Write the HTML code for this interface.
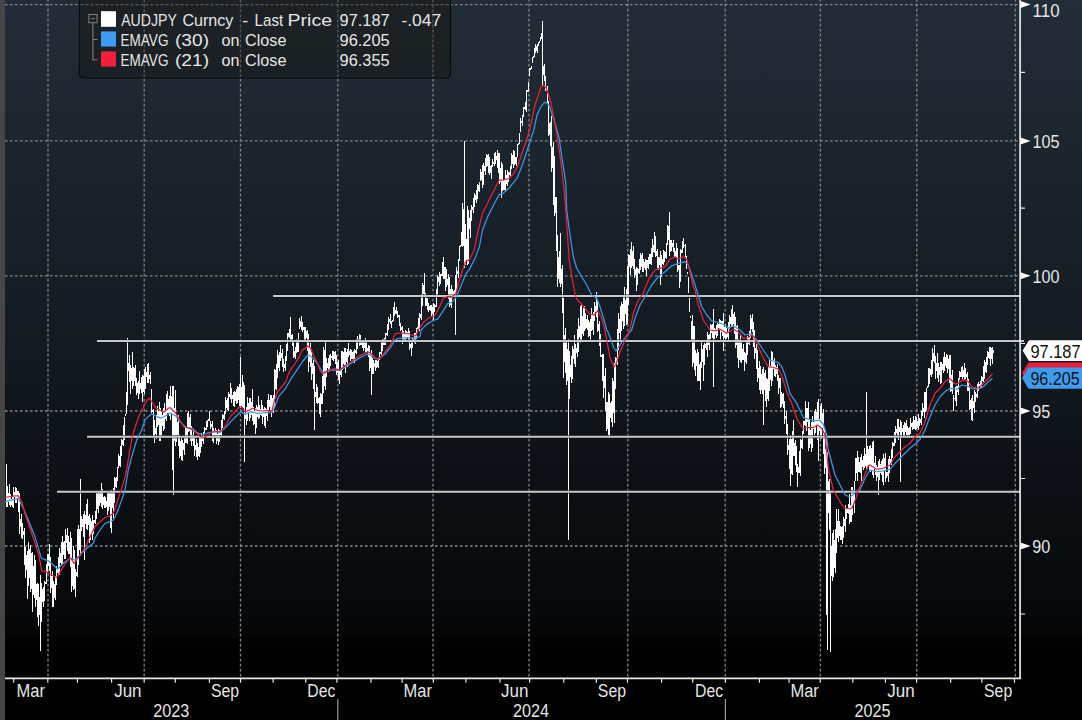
<!DOCTYPE html>
<html><head><meta charset="utf-8"><style>
html,body{margin:0;padding:0;background:#000;}
body{width:1082px;height:720px;overflow:hidden;font-family:"Liberation Sans",sans-serif;}
svg{display:block;}
text{font-family:"Liberation Sans",sans-serif;}
</style></head><body>
<svg width="1082" height="720" viewBox="0 0 1082 720">
<defs>
<linearGradient id="bg" x1="0" y1="0" x2="0" y2="678" gradientUnits="userSpaceOnUse">
<stop offset="0.0000" stop-color="rgb(33,45,56)"/>
<stop offset="0.2212" stop-color="rgb(27,37,46)"/>
<stop offset="0.4867" stop-color="rgb(20,27,34)"/>
<stop offset="0.7375" stop-color="rgb(11,15,19)"/>
<stop offset="0.8805" stop-color="rgb(7,9,12)"/>
<stop offset="0.9395" stop-color="rgb(4,5,7)"/>
<stop offset="0.9425" stop-color="rgb(2,2,3)"/>
<stop offset="1.0000" stop-color="rgb(0,0,0)"/>
</linearGradient>
</defs>
<rect x="0" y="0" width="1082" height="720" fill="#000"/>
<rect x="5" y="0" width="1077" height="678" fill="url(#bg)"/>
<rect x="0" y="0" width="5" height="720" fill="#464646"/>
<!-- grid -->
<g stroke="#82878c" stroke-width="1.3" stroke-dasharray="2.6 2.4" fill="none">
<path d="M5 4.6H1020M5 140.9H1020M5 275.8H1020M5 411H1020M5 546H1020"/>
<path stroke-dashoffset="1.2" d="M48 0V678M144.2 0V678M240.5 0V678M337.8 0V678M433 0V678M529 0V678M627.8 0V678M725.2 0V678M820.4 0V678M916.8 0V678M1015.3 0V678"/>
</g>
<!-- price bars -->
<path d="M6.5 464V507M7.5 486V507M8.5 493V502M9.5 484V505M10.5 494V507M11.5 499V505M12.5 497V507M13.5 487V508M14.5 492V497M15.5 487V503M16.5 488V503M17.5 491V498M18.5 491V512M19.5 493V534M20.5 519V527M21.5 514V538M22.5 523V539M23.5 531V535M24.5 528V565M25.5 547V578M26.5 555V570M27.5 551V599M28.5 542V586M29.5 549V578M30.5 545V592M31.5 553V589M32.5 552V612M33.5 566V595M34.5 555V598M35.5 560V607M36.5 584V600M37.5 583V617M38.5 584V626M39.5 597V615M40.5 575V651M41.5 583V622M42.5 589V602M43.5 587V607M44.5 581V601M45.5 582V584M46.5 564V584M47.5 554V572M48.5 554V566M49.5 544V571M50.5 557V593M51.5 576V588M52.5 571V607M53.5 581V607M54.5 584V598M55.5 576V600M56.5 566V585M57.5 569V573M58.5 557V575M59.5 548V575M60.5 553V563M61.5 542V565M62.5 536V564M63.5 542V555M64.5 541V559M65.5 529V559M66.5 535V543M67.5 528V551M68.5 536V554M69.5 542V554M70.5 532V567M71.5 538V592M72.5 560V586M73.5 546V590M74.5 550V589M75.5 569V597M76.5 572V576M77.5 529V577M78.5 525V565M79.5 529V550M80.5 479V556M81.5 516V531M82.5 519V527M83.5 514V537M84.5 511V560M85.5 515V524M86.5 504V529M87.5 499V530M88.5 516V525M89.5 514V543M90.5 518V540M91.5 521V535M92.5 515V540M93.5 520V534M94.5 520V523M95.5 511V524M96.5 493V519M97.5 493V509M98.5 492V513M99.5 491V506M100.5 492V503M101.5 483V507M102.5 489V509M103.5 497V505M104.5 496V508M105.5 497V508M106.5 501V507M107.5 493V515M108.5 493V511M109.5 493V507M110.5 491V528M111.5 490V533M112.5 491V508M113.5 488V518M114.5 477V503M115.5 478V487M116.5 477V488M117.5 467V481M118.5 454V468M119.5 456V466M120.5 446V467M121.5 439V456M122.5 440V445M123.5 425V446M124.5 417V440M125.5 414V416M126.5 392V414M127.5 338V405M128.5 363V371M129.5 355V382M130.5 365V394M131.5 368V381M132.5 352V389M133.5 367V386M134.5 368V381M135.5 365V386M136.5 378V395M137.5 383V393M138.5 381V399M139.5 371V394M140.5 383V389M141.5 377V393M142.5 375V402M143.5 376V392M144.5 369V394M145.5 367V389M146.5 372V377M147.5 364V383M148.5 363V383M149.5 375V379M150.5 372V384M151.5 389V413M152.5 410V412M153.5 409V436M154.5 420V443M155.5 428V434M156.5 415V439M157.5 406V427M158.5 411V425M159.5 402V441M160.5 408V441M161.5 412V437M162.5 415V426M163.5 408V431M164.5 403V429M165.5 410V419M166.5 394V421M167.5 391V413M168.5 399V413M169.5 396V416M170.5 386V420M171.5 396V414M172.5 386V470M173.5 386V495M174.5 408V441M175.5 390V446M176.5 415V442M177.5 422V435M178.5 415V446M179.5 435V458M180.5 441V456M181.5 437V460M182.5 440V461M183.5 443V450M184.5 438V455M185.5 426V443M186.5 427V443M187.5 413V444M188.5 411V432M189.5 417V431M190.5 414V441M191.5 426V446M192.5 435V441M193.5 430V446M194.5 436V456M195.5 445V450M196.5 439V457M197.5 443V460M198.5 447V456M199.5 435V457M200.5 436V453M201.5 433V447M202.5 437V441M203.5 432V444M204.5 427V433M205.5 428V430M206.5 421V430M207.5 420V427M208.5 419V421M209.5 411V421M210.5 421V429M211.5 424V427M212.5 421V441M213.5 428V443M214.5 431V436M215.5 428V438M216.5 430V444M217.5 434V441M218.5 429V445M219.5 430V442M220.5 431V435M221.5 420V436M222.5 414V428M223.5 415V419M224.5 411V420M225.5 397V414M226.5 400V408M227.5 398V410M228.5 392V411M229.5 394V397M230.5 383V399M231.5 388V403M232.5 395V399M233.5 392V406M234.5 391V407M235.5 392V401M236.5 389V404M237.5 386V403M238.5 387V400M239.5 384V406M240.5 357V408M241.5 387V406M242.5 375V407M243.5 382V408M244.5 385V462M245.5 413V419M246.5 407V425M247.5 397V421M248.5 403V413M249.5 398V421M250.5 398V418M251.5 402V415M252.5 389V421M253.5 407V425M254.5 411V424M255.5 408V434M256.5 405V428M257.5 407V417M258.5 396V419M259.5 405V418M260.5 409V415M261.5 400V416M262.5 405V424M263.5 409V417M264.5 407V426M265.5 408V428M266.5 409V416M267.5 400V421M268.5 394V411M269.5 400V407M270.5 395V410M271.5 395V417M272.5 398V411M273.5 395V413M274.5 369V407M275.5 370V389M276.5 364V390M277.5 350V378M278.5 355V368M279.5 352V371M280.5 345V361M281.5 353V358M282.5 349V367M283.5 359V372M284.5 364V368M285.5 356V371M286.5 344V361M287.5 333V351M288.5 333V337M289.5 329V338M290.5 317V342M291.5 335V342M292.5 334V346M293.5 340V358M294.5 351V357M295.5 347V359M296.5 339V353M297.5 340V352M298.5 333V352M299.5 318V329M300.5 321V327M301.5 316V330M302.5 322V332M303.5 327V330M304.5 327V341M305.5 327V342M306.5 331V338M307.5 330V351M308.5 334V372M309.5 347V362M310.5 343V367M311.5 352V380M312.5 363V374M313.5 360V389M314.5 366V430M315.5 392V397M316.5 384V403M317.5 387V404M318.5 398V403M319.5 397V414M320.5 393V417M321.5 394V404M322.5 376V404M323.5 347V393M324.5 350V386M325.5 342V390M326.5 358V377M327.5 363V368M328.5 358V372M329.5 355V369M330.5 354V366M331.5 356V358M332.5 351V360M333.5 351V361M334.5 352V359M335.5 351V364M336.5 355V375M337.5 362V373M338.5 360V380M339.5 369V384M340.5 371V375M341.5 351V377M342.5 351V370M343.5 352V364M344.5 348V365M345.5 348V373M346.5 352V362M347.5 349V367M348.5 343V357M349.5 351V355M350.5 349V361M351.5 350V359M352.5 352V359M353.5 351V361M354.5 349V363M355.5 350V353M356.5 339V354M357.5 336V349M358.5 339V342M359.5 334V346M360.5 335V345M361.5 342V345M362.5 341V348M363.5 341V351M364.5 342V348M365.5 338V353M366.5 340V353M367.5 348V351M368.5 345V357M369.5 346V371M370.5 353V368M371.5 350V395M372.5 358V374M373.5 360V374M374.5 363V367M375.5 360V371M376.5 360V368M377.5 361V367M378.5 359V368M379.5 352V360M380.5 352V354M381.5 342V355M382.5 339V351M383.5 339V345M384.5 338V345M385.5 333V345M386.5 333V335M387.5 324V336M388.5 317V330M389.5 319V322M390.5 314V324M391.5 321V328M392.5 320V322M393.5 307V321M394.5 302V316M395.5 310V314M396.5 307V314M397.5 311V318M398.5 315V317M399.5 315V326M400.5 323V331M401.5 327V330M402.5 326V344M403.5 331V341M404.5 334V340M405.5 330V340M406.5 331V339M407.5 332V337M408.5 328V341M409.5 331V350M410.5 344V348M411.5 342V356M412.5 338V348M413.5 339V341M414.5 333V343M415.5 333V344M416.5 328V339M417.5 327V329M418.5 318V329M419.5 313V331M420.5 314V318M421.5 294V320M422.5 283V306M423.5 285V294M424.5 273V295M425.5 293V306M426.5 298V306M427.5 298V310M428.5 303V312M429.5 306V310M430.5 305V311M431.5 305V316M432.5 307V314M433.5 303V321M434.5 304V312M435.5 305V307M436.5 289V307M437.5 275V295M438.5 277V282M439.5 272V286M440.5 274V284M441.5 274V276M442.5 262V276M443.5 257V279M444.5 267V279M445.5 267V291M446.5 269V287M447.5 279V285M448.5 274V299M449.5 277V307M450.5 289V305M451.5 285V308M452.5 289V298M453.5 291V296M454.5 290V297M455.5 275V335M456.5 267V292M457.5 271V274M458.5 259V278M459.5 246V261M460.5 245V247M461.5 232V246M462.5 203V247M463.5 209V246M464.5 141V268M465.5 224V265M466.5 239V260M467.5 206V265M468.5 210V264M469.5 218V229M470.5 210V238M471.5 205V221M472.5 207V210M473.5 198V213M474.5 193V207M475.5 195V200M476.5 190V203M477.5 184V199M478.5 185V191M479.5 182V192M480.5 169V181M481.5 172V180M482.5 165V188M483.5 163V185M484.5 166V171M485.5 158V175M486.5 154V167M487.5 155V166M488.5 154V173M489.5 157V175M490.5 166V173M491.5 165V179M492.5 159V167M493.5 162V164M494.5 153V166M495.5 152V164M496.5 156V160M497.5 150V168M498.5 153V173M499.5 153V184M500.5 168V182M501.5 162V198M502.5 164V191M503.5 180V190M504.5 179V190M505.5 170V191M506.5 175V184M507.5 170V186M508.5 172V182M509.5 172V175M510.5 166V176M511.5 153V169M512.5 155V164M513.5 150V168M514.5 151V165M515.5 157V164M516.5 157V166M517.5 144V157M518.5 143V145M519.5 133V144M520.5 118V132M521.5 121V123M522.5 115V126M523.5 107V117M524.5 107V109M525.5 102V110M526.5 90V112M527.5 90V92M528.5 82V92M529.5 68V76M530.5 68V70M531.5 66V69M532.5 57V63M533.5 56V58M534.5 48V57M535.5 44V53M536.5 46V51M537.5 44V53M538.5 42V46M539.5 41V43M540.5 37V41M541.5 33V39M542.5 21V85M543.5 66V75M544.5 64V81M545.5 76V91M546.5 88V90M547.5 86V103M548.5 101V136M549.5 123V135M550.5 122V146M551.5 116V172M552.5 147V168M553.5 142V205M554.5 156V216M555.5 197V213M556.5 197V251M557.5 235V287M558.5 257V279M559.5 251V283M560.5 233V287M561.5 269V284M562.5 265V313M563.5 298V378M564.5 335V362M565.5 328V373M566.5 340V385M567.5 349V381M568.5 339V540M569.5 351V399M570.5 365V377M571.5 356V383M572.5 346V379M573.5 349V359M574.5 335V364M575.5 344V367M576.5 348V353M577.5 329V357M578.5 318V352M579.5 326V337M580.5 306V343M581.5 304V342M582.5 316V334M583.5 308V336M584.5 306V331M585.5 313V329M586.5 319V328M587.5 315V330M588.5 320V337M589.5 322V336M590.5 319V342M591.5 308V331M592.5 315V330M593.5 312V335M594.5 302V321M595.5 306V312M596.5 292V317M597.5 301V332M598.5 324V331M599.5 321V346M600.5 334V357M601.5 355V357M602.5 354V381M603.5 354V398M604.5 376V388M605.5 368V411M606.5 402V431M607.5 402V429M608.5 392V435M609.5 394V436M610.5 403V418M611.5 401V422M612.5 378V427M613.5 381V413M614.5 363V423M615.5 357V389M616.5 358V363M617.5 329V365M618.5 313V350M619.5 319V333M620.5 306V341M621.5 302V331M622.5 304V321M623.5 297V329M624.5 287V326M625.5 300V314M626.5 289V325M627.5 266V324M628.5 254V305M629.5 255V267M630.5 249V275M631.5 242V268M632.5 251V266M633.5 246V269M634.5 259V278M635.5 269V275M636.5 267V291M637.5 268V285M638.5 269V273M639.5 259V274M640.5 253V270M641.5 255V267M642.5 253V272M643.5 259V272M644.5 262V268M645.5 259V270M646.5 260V276M647.5 260V268M648.5 257V269M649.5 254V264M650.5 254V264M651.5 248V265M652.5 239V257M653.5 245V252M654.5 232V253M655.5 236V257M656.5 251V256M657.5 249V268M658.5 257V270M659.5 257V265M660.5 251V285M661.5 255V277M662.5 259V264M663.5 250V265M664.5 251V262M665.5 252V258M666.5 243V259M667.5 225V245M668.5 226V240M669.5 212V256M670.5 240V252M671.5 240V251M672.5 243V247M673.5 240V252M674.5 248V257M675.5 251V257M676.5 243V257M677.5 248V272M678.5 265V270M679.5 265V288M680.5 249V282M681.5 250V253M682.5 241V253M683.5 238V248M684.5 245V246M685.5 244V257M686.5 256V269M687.5 272V274M688.5 277V293M689.5 298V312M690.5 316V318M691.5 321V340M692.5 315V367M693.5 326V363M694.5 326V370M695.5 350V376M696.5 353V366M697.5 349V381M698.5 352V381M699.5 364V381M700.5 362V390M701.5 340V368M702.5 349V362M703.5 345V381M704.5 343V365M705.5 344V348M706.5 340V350M707.5 332V357M708.5 335V345M709.5 334V350M710.5 324V339M711.5 325V333M712.5 324V338M713.5 309V387M714.5 328V339M715.5 329V335M716.5 325V338M717.5 322V336M718.5 324V328M719.5 319V329M720.5 320V340M721.5 321V332M722.5 321V336M723.5 313V351M724.5 327V338M725.5 324V341M726.5 328V339M727.5 332V337M728.5 322V340M729.5 315V329M730.5 317V324M731.5 309V327M732.5 305V327M733.5 314V324M734.5 312V334M735.5 317V348M736.5 326V345M737.5 325V358M738.5 339V368M739.5 342V360M740.5 334V362M741.5 342V363M742.5 349V360M743.5 344V360M744.5 352V371M745.5 353V362M746.5 341V364M747.5 336V355M748.5 337V344M749.5 331V345M750.5 315V338M751.5 318V329M752.5 314V332M753.5 322V347M754.5 330V359M755.5 348V353M756.5 344V369M757.5 350V382M758.5 368V378M759.5 361V390M760.5 366V394M761.5 374V390M762.5 369V394M763.5 367V425M764.5 373V390M765.5 370V401M766.5 378V407M767.5 379V399M768.5 366V401M769.5 359V391M770.5 366V380M771.5 351V386M772.5 352V381M773.5 360V369M774.5 358V376M775.5 365V377M776.5 367V374M777.5 364V381M778.5 375V394M779.5 378V388M780.5 378V408M781.5 392V407M782.5 394V404M783.5 393V408M784.5 401V424M785.5 416V419M786.5 411V434M787.5 424V455M788.5 445V450M789.5 439V469M790.5 435V486M791.5 439V474M792.5 431V475M793.5 420V456M794.5 443V456M795.5 440V465M796.5 446V472M797.5 464V487M798.5 467V473M799.5 451V473M800.5 439V476M801.5 440V448M802.5 431V449M803.5 421V434M804.5 421V425M805.5 401V426M806.5 408V431M807.5 408V422M808.5 402V451M809.5 420V448M810.5 430V444M811.5 422V452M812.5 416V448M813.5 422V429M814.5 411V435M815.5 409V433M816.5 412V425M817.5 402V440M818.5 399V461M819.5 419V431M820.5 406V439M821.5 403V439M822.5 413V428M823.5 409V454M824.5 427V474M825.5 449V468M826.5 433V615M827.5 452V650M828.5 481V513M829.5 479V530M830.5 490V652M831.5 546V576M832.5 533V581M833.5 530V577M834.5 540V568M835.5 529V573M836.5 509V553M837.5 521V538M838.5 509V542M839.5 521V536M840.5 526V540M841.5 527V540M842.5 526V544M843.5 517V538M844.5 519V526M845.5 505V532M846.5 508V519M847.5 508V513M848.5 504V514M849.5 494V524M850.5 505V522M851.5 487V522M852.5 487V515M853.5 490V505M854.5 481V513M855.5 458V481M856.5 458V473M857.5 451V481M858.5 457V472M859.5 462V472M860.5 457V473M861.5 454V481M862.5 460V467M863.5 456V470M864.5 448V468M865.5 454V466M866.5 392V469M867.5 446V468M868.5 449V466M869.5 446V471M870.5 445V472M871.5 448V470M872.5 442V475M873.5 441V478M874.5 463V469M875.5 456V475M876.5 465V481M877.5 467V477M878.5 461V495M879.5 459V480M880.5 464V473M881.5 461V475M882.5 459V482M883.5 454V485M884.5 458V471M885.5 453V482M886.5 472V478M887.5 472V476M888.5 459V482M889.5 456V473M890.5 459V464M891.5 449V465M892.5 442V458M893.5 443V446M894.5 432V446M895.5 426V443M896.5 429V433M897.5 419V436M898.5 419V440M899.5 427V432M900.5 420V482M901.5 422V437M902.5 428V432M903.5 425V436M904.5 422V436M905.5 423V432M906.5 420V435M907.5 426V436M908.5 428V435M909.5 427V438M910.5 418V434M911.5 423V427M912.5 422V430M913.5 416V429M914.5 420V429M915.5 416V430M916.5 417V429M917.5 421V428M918.5 414V430M919.5 418V426M920.5 419V423M921.5 411V425M922.5 403V416M923.5 408V412M924.5 392V418M925.5 392V412M926.5 388V410M927.5 386V388M928.5 368V387M929.5 368V384M930.5 369V375M931.5 360V377M932.5 348V374M933.5 353V361M934.5 345V363M935.5 356V379M936.5 363V371M937.5 353V378M938.5 363V382M939.5 367V375M940.5 362V384M941.5 362V383M942.5 364V370M943.5 357V373M944.5 352V371M945.5 357V366M946.5 354V368M947.5 355V373M948.5 359V369M949.5 355V383M950.5 355V392M951.5 375V391M952.5 370V394M953.5 395V411M954.5 398V399M955.5 387V401M956.5 386V406M957.5 386V392M958.5 378V395M959.5 371V380M960.5 372V377M961.5 367V377M962.5 366V379M963.5 370V377M964.5 363V380M965.5 368V379M966.5 374V377M967.5 372V391M968.5 379V391M969.5 387V410M970.5 400V409M971.5 398V420M972.5 395V421M973.5 401V408M974.5 390V413M975.5 392V402M976.5 394V397M977.5 384V398M978.5 382V391M979.5 384V386M980.5 381V388M981.5 376V387M982.5 377V381M983.5 366V382M984.5 360V379M985.5 362V372M986.5 357V373M987.5 351V365M988.5 352V358M989.5 347V359M990.5 347V366M991.5 348V359M992.5 347V364M993.5 350V353" stroke="#ffffff" stroke-width="1" fill="none" shape-rendering="crispEdges"/>
<!-- user lines -->
<g stroke="#080b0e" stroke-width="3.6" fill="none" stroke-opacity="0.6">
<path d="M272.5 296H1019M96.5 341H1019M86.5 436.8H1019M56.5 491.8H1019"/>
</g>
<g stroke="#c6c8ca" stroke-width="2" fill="none">
<path d="M273 296H1020M97 341H1024M87 436.8H1020M57 491.8H1020"/>
</g>
<!-- EMAs -->
<polyline points="5.00,501.70 15.00,499.20 18.30,498.30 23.30,508.30 28.30,520.00 35.00,536.70 40.80,556.70 41.70,558.30 48.30,560.80 53.30,565.00 57.50,569.20 63.30,563.30 70.00,558.30 75.00,560.00 81.70,553.30 86.70,548.30 93.30,543.30 95.00,538.30 100.00,530.00 105.00,523.30 110.00,521.70 113.30,520.00 116.70,513.30 121.70,500.00 125.00,490.00 128.30,470.00 131.70,456.70 136.70,440.00 141.70,430.00 145.00,420.00 145.80,418.90 151.40,414.00 155.60,416.00 161.00,418.20 165.30,416.00 170.00,413.00 175.60,415.80 179.70,421.40 185.30,427.00 192.20,428.30 197.80,433.20 203.30,434.60 208.90,432.50 214.40,431.80 220.00,432.50 225.60,427.60 231.10,421.40 236.70,415.80 240.80,411.70 245.00,414.40 250.60,411.70 256.10,413.00 261.70,413.00 267.20,412.40 271.70,412.60 274.40,407.80 278.60,396.70 285.60,388.30 291.10,378.60 296.70,370.30 302.20,362.00 307.80,355.00 311.90,357.00 316.10,362.00 322.80,372.00 328.30,370.60 333.90,369.90 339.40,370.60 345.00,367.00 350.60,363.60 356.10,360.10 361.70,356.70 367.90,353.90 371.40,356.00 375.60,358.75 379.70,358.00 385.30,353.90 390.80,346.90 395.00,340.00 397.80,338.60 403.30,337.90 408.90,337.90 415.80,337.90 420.00,336.50 421.10,330.00 426.70,324.40 432.20,321.00 437.80,318.90 443.30,310.60 447.50,303.60 451.70,302.20 455.80,298.00 460.00,288.30 465.60,274.40 469.70,268.90 475.30,257.80 479.40,246.70 482.50,230.00 488.00,216.10 493.60,205.00 499.20,194.60 503.30,193.20 508.90,188.30 517.20,177.90 521.40,167.50 525.60,155.00 529.70,142.50 533.90,130.00 537.00,115.00 541.20,106.30 544.80,102.10 549.00,105.00 554.00,120.00 558.90,137.00 563.00,164.70 565.80,182.80 566.70,210.00 570.00,235.00 573.30,256.70 576.70,268.30 581.70,276.70 586.70,285.00 591.70,295.00 596.70,298.30 600.00,306.70 605.00,323.30 606.70,330.00 608.00,332.00 614.00,348.00 616.00,351.00 622.00,342.00 627.00,335.00 631.70,330.00 635.00,318.30 640.00,305.00 645.00,296.70 651.70,285.00 658.30,276.70 665.00,271.70 671.70,265.80 678.30,263.30 685.00,261.70 688.30,265.00 691.70,275.00 696.70,290.00 701.70,306.70 706.70,315.00 711.70,320.80 718.30,322.50 725.00,325.00 728.30,328.30 733.30,325.80 740.00,330.00 745.00,335.00 751.70,333.70 756.70,340.00 763.30,350.00 770.00,360.00 775.00,361.70 778.30,362.50 781.70,366.70 785.00,375.00 790.00,393.30 796.70,403.30 803.30,417.50 808.30,419.20 815.00,420.80 819.20,420.00 823.30,424.20 825.80,431.70 828.30,450.00 835.00,475.00 841.70,488.30 845.00,495.00 850.00,497.00 854.00,494.00 858.00,490.00 860.00,490.00 865.00,478.30 870.00,470.00 876.70,471.70 883.30,470.80 890.00,469.20 895.00,463.30 900.00,458.30 905.00,453.30 910.00,448.30 915.00,444.20 920.00,439.20 925.00,430.00 930.00,416.70 935.00,405.00 940.00,396.70 945.00,391.70 950.00,388.30 956.70,389.20 961.70,385.00 966.70,385.80 971.70,388.30 978.30,389.20 983.30,386.70 988.30,381.70 992.50,378.30" stroke="#3a96e8" stroke-width="1.25" fill="none" stroke-linejoin="round"/>
<polyline points="5.00,497.50 15.00,495.80 18.30,495.80 21.70,501.70 25.00,513.30 30.00,528.30 35.00,543.30 39.20,556.70 41.70,570.80 46.70,571.70 51.70,575.00 56.70,577.50 63.30,566.70 70.00,557.50 74.20,563.30 80.00,555.00 86.70,545.00 88.30,540.00 90.00,536.70 95.00,526.70 100.00,521.70 105.00,517.50 110.00,515.80 113.30,513.30 116.70,503.30 120.00,493.30 123.30,483.30 126.70,470.00 129.20,453.30 131.70,440.00 134.20,430.00 137.50,420.00 138.90,416.00 143.00,407.80 147.20,400.00 149.30,398.00 152.00,402.00 155.60,407.80 159.70,410.00 163.90,412.00 168.00,408.50 170.00,407.50 175.60,413.00 179.70,420.00 183.90,427.00 189.40,428.30 195.00,431.80 200.60,436.70 204.70,437.40 210.30,433.20 214.40,431.00 218.60,431.80 222.80,429.70 227.00,422.80 231.10,415.80 235.30,411.70 239.40,406.80 241.50,406.80 245.00,411.70 249.20,410.30 252.60,408.20 257.50,410.30 263.00,411.00 267.20,410.30 270.00,411.70 271.70,411.30 274.40,400.80 277.20,392.50 281.40,387.00 285.60,382.00 288.30,374.40 291.10,368.90 295.30,363.30 299.40,356.40 302.20,350.10 305.70,348.00 307.80,346.00 310.60,348.00 313.30,355.00 317.50,363.30 320.00,370.60 322.80,374.00 328.30,370.60 333.90,368.50 339.40,369.90 345.00,365.70 350.60,362.20 356.10,358.00 361.70,354.60 367.90,351.80 371.40,353.90 375.60,358.75 378.30,359.40 382.50,355.30 386.70,349.70 390.80,344.20 395.00,334.40 397.80,333.00 403.30,333.00 408.90,333.75 411.70,335.10 415.80,335.80 418.30,330.00 423.90,321.70 429.40,317.50 434.30,316.10 439.20,307.80 443.30,298.00 447.50,296.70 451.70,296.70 455.80,293.90 458.60,282.80 462.80,268.90 465.60,262.00 469.70,259.20 473.90,250.80 478.30,230.00 482.50,213.30 488.00,202.20 493.60,191.10 499.20,180.00 503.30,180.00 508.90,178.60 513.00,174.40 517.20,167.50 521.40,155.00 525.60,142.50 529.70,130.00 535.00,105.00 541.00,87.00 543.30,85.30 546.00,87.50 551.00,102.50 556.10,130.00 560.30,157.80 564.40,192.50 565.80,210.00 567.50,235.00 569.20,260.00 571.70,276.70 575.00,293.30 576.70,299.20 580.00,302.50 585.00,308.30 590.00,314.20 594.20,315.00 597.50,310.80 601.70,318.30 605.00,330.00 610.00,358.00 614.00,367.00 616.00,364.00 620.00,352.00 626.00,338.00 630.00,330.00 633.30,313.30 638.30,300.00 643.30,293.30 645.00,288.30 650.00,276.70 655.00,270.00 660.00,268.30 665.00,266.70 670.00,259.20 675.00,256.70 678.30,259.20 683.30,256.70 686.70,259.20 690.00,271.70 693.30,286.70 695.00,290.00 698.30,305.00 703.30,320.00 710.00,330.00 715.00,330.80 720.00,329.20 726.70,333.30 733.30,329.20 738.30,331.70 743.30,338.30 748.30,337.50 751.70,335.00 755.00,338.30 758.30,346.70 763.30,358.30 768.30,366.70 773.30,367.50 778.30,369.20 781.70,375.00 786.70,391.70 791.70,403.30 796.70,418.30 802.50,428.30 808.30,427.50 813.30,427.50 817.50,425.00 821.70,428.30 825.00,435.00 828.30,468.30 833.30,490.00 839.00,500.00 844.00,508.00 850.00,509.00 852.00,508.00 856.00,498.00 858.30,490.00 863.30,478.30 868.30,465.80 870.00,465.00 876.70,469.20 883.30,468.30 890.00,465.00 895.00,456.70 900.00,451.70 905.00,446.70 910.00,443.30 915.00,436.70 920.00,433.30 925.00,421.70 930.00,405.00 935.00,393.30 940.00,388.30 945.00,381.70 950.00,378.30 954.20,383.30 956.70,384.20 960.00,381.70 963.30,379.70 968.30,381.70 971.70,386.70 976.70,388.00 980.00,386.70 985.00,381.70 989.20,377.50 992.50,373.70" stroke="#e8203a" stroke-width="1.25" fill="none" stroke-linejoin="round"/>
<!-- axes -->
<path d="M1020.1 0V679M5 678.4H1021" stroke="#e8e8e8" stroke-width="1.7" fill="none"/>
<!-- y ticks -->
<g fill="#ffffff">
<path d="M1020.5 1L1030.6 4.5L1020.5 8Z"/>
<path d="M1020.5 137.5L1030.6 141L1020.5 144.5Z"/>
<path d="M1020.5 272.2L1030.6 275.7L1020.5 279.2Z"/>
<path d="M1020.5 407.5L1030.6 411L1020.5 414.5Z"/>
<path d="M1020.5 542.5L1030.6 546L1020.5 549.5Z"/>
</g>
<path d="M1020 72.3H1025M1020 208.2H1025M1020 343.5H1025M1020 478.5H1025M1020 614H1025" stroke="#e8e8e8" stroke-width="1.2"/>
<g fill="#e6e6e6" font-size="17.6">
<text x="1032.6" y="16.6" textLength="27" lengthAdjust="spacingAndGlyphs">110</text>
<text x="1032.6" y="147.6" textLength="27" lengthAdjust="spacingAndGlyphs">105</text>
<text x="1032.6" y="282.8" textLength="27" lengthAdjust="spacingAndGlyphs">100</text>
<text x="1032.2" y="418" textLength="18" lengthAdjust="spacingAndGlyphs">95</text>
<text x="1032.2" y="553" textLength="18" lengthAdjust="spacingAndGlyphs">90</text>
</g>
<!-- right value labels -->
<path d="M1022 373L1028.5 362.5H1082V383.5H1028.5Z" fill="#e8203a"/>
<path d="M1022.6 350.6L1029 340.2H1082V361.1H1029Z" fill="#ffffff"/>
<path d="M1022.1 378L1028.5 367.4H1082V388.8H1028.5Z" fill="#3d9cf0"/>
<g font-size="17.6" fill="#111">
<text x="1030.4" y="357.7" textLength="50.2" lengthAdjust="spacingAndGlyphs">97.187</text>
<text x="1030.4" y="384.5" textLength="49.4" lengthAdjust="spacingAndGlyphs">96.205</text>
</g>
<!-- x axis ticks & labels -->
<path id="xt" d="M13.71 678.4V682.8M47.81 678.4V682.8M77.46 678.4V682.8M111.56 678.4V682.8M144.18 678.4V682.8M175.31 678.4V682.8M209.41 678.4V682.8M240.54 678.4V682.8M273.16 678.4V682.8M305.78 678.4V682.8M336.91 678.4V682.8M371.01 678.4V682.8M402.14 678.4V682.8M433.28 678.4V682.8M465.89 678.4V682.8M499.99 678.4V682.8M529.64 678.4V682.8M563.74 678.4V682.8M596.36 678.4V682.8M627.49 678.4V682.8M661.59 678.4V682.8M692.73 678.4V682.8M725.34 678.4V682.8M759.44 678.4V682.8M789.09 678.4V682.8M820.23 678.4V682.8M852.84 678.4V682.8M885.46 678.4V682.8M916.60 678.4V682.8M950.69 678.4V682.8M981.83 678.4V682.8M1014.44 678.4V682.8" stroke="#e8e8e8" stroke-width="1.2" fill="none"/>
<path d="M337.8 699V720M725.4 699V720" stroke="#9a9a9a" stroke-width="1.2"/>
<g fill="#e6e6e6" font-size="17.6">
<text x="30.76" y="696.6" text-anchor="middle" textLength="28.4" lengthAdjust="spacingAndGlyphs">Mar</text>
<text x="127.87" y="696.6" text-anchor="middle" textLength="27.4" lengthAdjust="spacingAndGlyphs">Jun</text>
<text x="224.98" y="696.6" text-anchor="middle" textLength="28.2" lengthAdjust="spacingAndGlyphs">Sep</text>
<text x="321.34" y="696.6" text-anchor="middle" textLength="28.0" lengthAdjust="spacingAndGlyphs">Dec</text>
<text x="417.71" y="696.6" text-anchor="middle" textLength="28.4" lengthAdjust="spacingAndGlyphs">Mar</text>
<text x="514.82" y="696.6" text-anchor="middle" textLength="27.4" lengthAdjust="spacingAndGlyphs">Jun</text>
<text x="611.93" y="696.6" text-anchor="middle" textLength="28.2" lengthAdjust="spacingAndGlyphs">Sep</text>
<text x="709.04" y="696.6" text-anchor="middle" textLength="28.0" lengthAdjust="spacingAndGlyphs">Dec</text>
<text x="804.66" y="696.6" text-anchor="middle" textLength="28.4" lengthAdjust="spacingAndGlyphs">Mar</text>
<text x="901.03" y="696.6" text-anchor="middle" textLength="27.4" lengthAdjust="spacingAndGlyphs">Jun</text>
<text x="998.14" y="696.6" text-anchor="middle" textLength="28.2" lengthAdjust="spacingAndGlyphs">Sep</text>
<text x="171.2" y="716.6" text-anchor="middle" textLength="36" lengthAdjust="spacingAndGlyphs">2023</text>
<text x="531.0" y="716.6" text-anchor="middle" textLength="36" lengthAdjust="spacingAndGlyphs">2024</text>
<text x="872.6" y="716.6" text-anchor="middle" textLength="36" lengthAdjust="spacingAndGlyphs">2025</text>
</g>
<!-- legend -->
<rect x="79.5" y="-3" width="371" height="81" rx="4" fill="#1b1d1f" fill-opacity="0.72" stroke="#080a0c" stroke-width="1.2"/>
<g stroke="#82878c" stroke-width="1.3" stroke-dasharray="2.6 2.4" fill="none" opacity="0.45">
<path d="M81 4.6H449.5M144.2 0V77M240.5 0V77M337.8 0V77M433 0V77"/>
</g>
<rect x="88.8" y="14.5" width="8.2" height="8.2" fill="none" stroke="#7c7c7c" stroke-width="1.1"/>
<path d="M90.8 18.6H95" stroke="#7c7c7c" stroke-width="1.1"/>
<path d="M92.9 22.7V59.8H97.5M92.9 39.5H97.5" stroke="#7c7c7c" stroke-width="1.1" fill="none"/>
<rect x="101" y="11.2" width="15" height="15.6" fill="#ffffff"/>
<rect x="101" y="31.4" width="15" height="15.2" fill="#3d9cf5"/>
<rect x="101" y="51.4" width="15" height="15.2" fill="#f0203c"/>
<g fill="#e6e6e6" font-size="17">
<text x="121.2" y="26.3" textLength="55.6" lengthAdjust="spacingAndGlyphs">AUDJPY</text>
<text x="182.4" y="26.3" textLength="51" lengthAdjust="spacingAndGlyphs">Curncy</text>
<text x="242.2" y="26.3" textLength="6" lengthAdjust="spacingAndGlyphs">-</text>
<text x="254.6" y="26.3" textLength="28.6" lengthAdjust="spacingAndGlyphs">Last</text>
<text x="287.6" y="26.3" textLength="44.4" lengthAdjust="spacingAndGlyphs">Price</text>
<text x="339.6" y="26.3" textLength="50" lengthAdjust="spacingAndGlyphs">97.187</text>
<text x="401.4" y="26.3" textLength="39.8" lengthAdjust="spacingAndGlyphs">-.047</text>
<text x="120.6" y="46" textLength="47.8" lengthAdjust="spacingAndGlyphs">EMAVG</text>
<text x="175" y="46" textLength="34" lengthAdjust="spacingAndGlyphs">(30)</text>
<text x="221.6" y="46" textLength="18" lengthAdjust="spacingAndGlyphs">on</text>
<text x="245" y="46" textLength="41.4" lengthAdjust="spacingAndGlyphs">Close</text>
<text x="339.6" y="46" textLength="50" lengthAdjust="spacingAndGlyphs">96.205</text>
<text x="120.6" y="65.8" textLength="47.8" lengthAdjust="spacingAndGlyphs">EMAVG</text>
<text x="175" y="65.8" textLength="34" lengthAdjust="spacingAndGlyphs">(21)</text>
<text x="221.6" y="65.8" textLength="18" lengthAdjust="spacingAndGlyphs">on</text>
<text x="245" y="65.8" textLength="41.4" lengthAdjust="spacingAndGlyphs">Close</text>
<text x="339.6" y="65.8" textLength="50" lengthAdjust="spacingAndGlyphs">96.355</text>
</g>
</svg>
</body></html>
